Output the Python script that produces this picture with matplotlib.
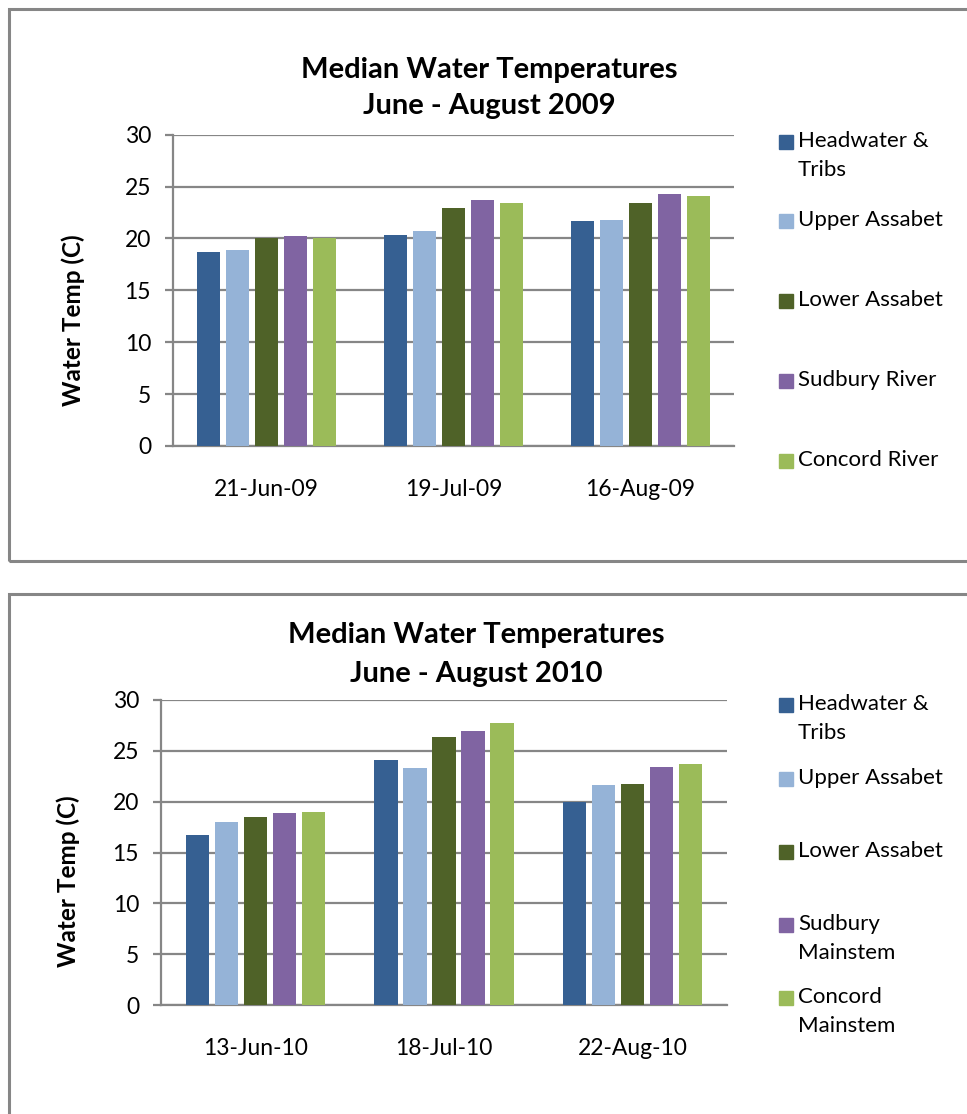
import numpy as np
import matplotlib.pyplot as plt
from matplotlib.patches import Rectangle

W, H = 967, 1114
DPI = 100

plt.rcParams['font.family'] = ['Lato', 'DejaVu Sans']

# median temperatures, one list per region, one value per sampling date
dates_2009 = ['21-Jun-09', '19-Jul-09', '16-Aug-09']
headwater_2009 = [18.7, 20.3, 21.7]
upper_assabet_2009 = [18.9, 20.7, 21.8]
lower_assabet_2009 = [20.0, 22.9, 23.4]
sudbury_2009 = [20.2, 23.7, 24.3]
concord_2009 = [20.0, 23.4, 24.1]
labels_2009 = ['Headwater &\nTribs', 'Upper Assabet', 'Lower Assabet',
               'Sudbury River', 'Concord River']

dates_2010 = ['13-Jun-10', '18-Jul-10', '22-Aug-10']
headwater_2010 = [16.7, 24.1, 20.0]
upper_assabet_2010 = [18.0, 23.3, 21.6]
lower_assabet_2010 = [18.5, 26.4, 21.7]
sudbury_2010 = [18.9, 27.0, 23.4]
concord_2010 = [19.0, 27.7, 23.7]
labels_2010 = ['Headwater &\nTribs', 'Upper Assabet', 'Lower Assabet',
               'Sudbury\nMainstem', 'Concord\nMainstem']

colors = ['#366092', '#95B3D7', '#4F6228', '#8064A2', '#9BBB59']
grey = '#868686'
FS = 16.5

fig = plt.figure(figsize=(W / DPI, H / DPI), dpi=DPI)


def px_axes(left, top, right, bottom):
    return fig.add_axes([left / W, 1 - bottom / H, (right - left) / W, (bottom - top) / H])


def box(left, top, right, bottom):
    fig.patches.append(Rectangle((left / W, 1 - bottom / H), (right - left) / W, (bottom - top) / H,
                                 transform=fig.transFigure, fill=False, edgecolor=grey, lw=2.2))


def draw_chart(ax, dates, series, ylabel_xy):
    x = np.arange(len(dates))
    slot = 1 / 6.5
    for i, vals in enumerate(series):
        ax.bar(x + (i - 2) * slot, vals, width=slot * 0.8, color=colors[i], zorder=3)
    ax.set_xlim(-0.5, len(dates) - 0.5)
    ax.set_ylim(0, 30)
    ax.set_yticks(range(0, 31, 5))
    ax.set_xticks(x)
    ax.set_xticklabels(dates)
    ax.grid(axis='y', color=grey, lw=1.6, zorder=0)
    for s in ['top', 'right']:
        ax.spines[s].set_visible(False)
    ax.spines['left'].set_color(grey)
    ax.spines['left'].set_linewidth(1.6)
    ax.spines['bottom'].set_color(grey)
    ax.spines['bottom'].set_linewidth(1.6)
    ax.tick_params(axis='y', length=5.8, width=1.6, color=grey, pad=10, labelsize=FS)
    ax.tick_params(axis='x', length=0, pad=24, labelsize=FS)
    ax.set_ylabel('Water Temp (C)', fontsize=17.5, fontweight='bold')
    ax.yaxis.set_label_coords(*ylabel_xy)


def legend(labels, ys, x_sq=779, x_txt=798):
    for lab, y, c in zip(labels, ys, colors):
        fig.patches.append(Rectangle((x_sq / W, 1 - (y + 7) / H), 14 / W, 14 / H,
                                     transform=fig.transFigure, color=c))
        fig.text(x_txt / W, 1 - (y - 11) / H, lab, ha='left', va='top',
                 fontsize=16, linespacing=1.55)


# top panel: 2009
box(9, 9, 990, 561)
ax1 = px_axes(173, 134.7, 734, 446)
draw_chart(ax1, dates_2009,
           [headwater_2009, upper_assabet_2009, lower_assabet_2009, sudbury_2009, concord_2009],
           (-0.157, 0.405))
fig.text(489 / W, 1 - 70 / H, 'Median Water Temperatures', ha='center', va='center',
         fontsize=21, fontweight='bold')
fig.text(489 / W, 1 - 106 / H, 'June - August 2009', ha='center', va='center',
         fontsize=21, fontweight='bold')
legend(labels_2009, [142, 221, 301, 381, 461])

# bottom panel: 2010
box(9, 594, 990, 1140)
ax2 = px_axes(161, 700, 727, 1005)
draw_chart(ax2, dates_2010,
           [headwater_2010, upper_assabet_2010, lower_assabet_2010, sudbury_2010, concord_2010],
           (-0.143, 0.407))
fig.text(476 / W, 1 - 635 / H, 'Median Water Temperatures', ha='center', va='center',
         fontsize=21, fontweight='bold')
fig.text(476 / W, 1 - 674 / H, 'June - August 2010', ha='center', va='center',
         fontsize=21, fontweight='bold')
legend(labels_2010, [705, 779, 852, 925, 998])

fig.savefig('out.png', dpi=DPI)
